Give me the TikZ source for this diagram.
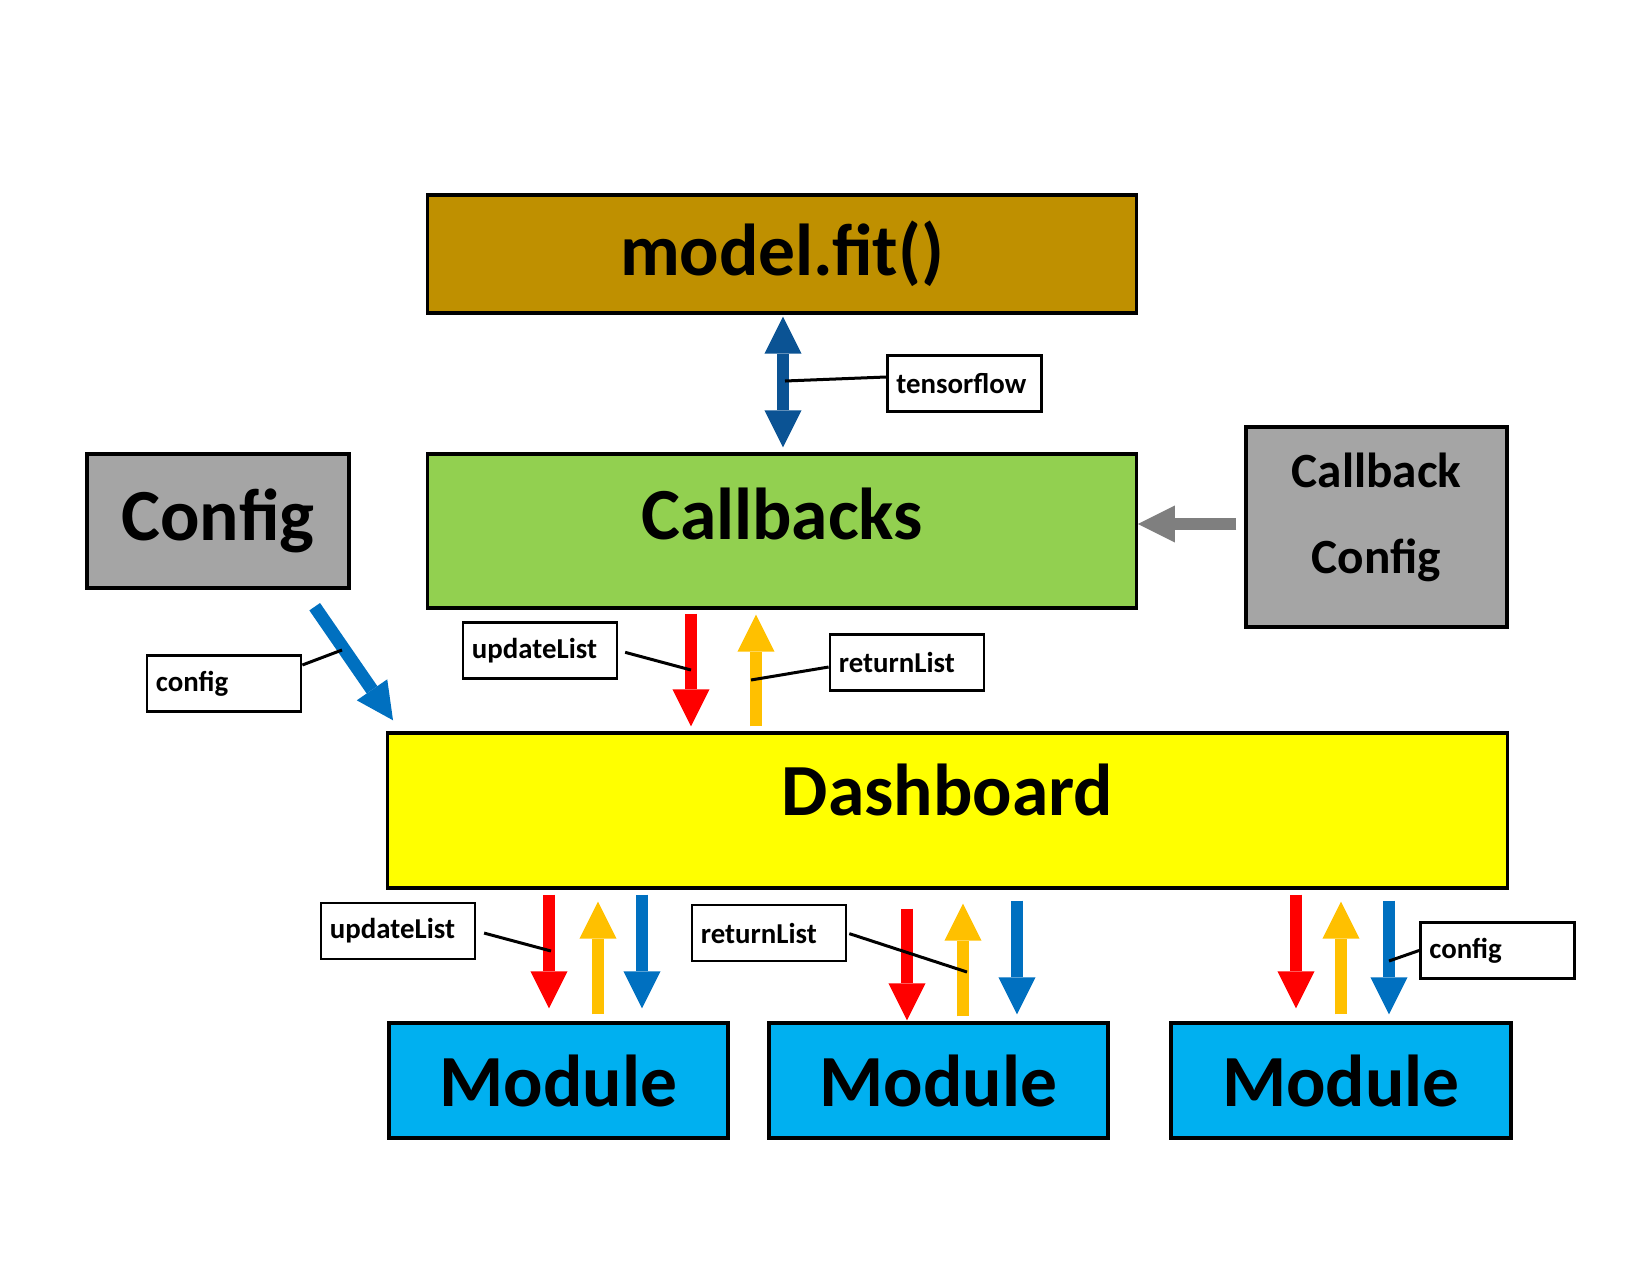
\documentclass[tikz,border=0pt]{standalone}
\usepackage{fontspec}
\setmainfont{Carlito}
\usetikzlibrary{arrows.meta}

\definecolor{fitgold}{HTML}{BF9000}
\definecolor{cbgreen}{HTML}{92D050}
\definecolor{cfggray}{HTML}{A5A5A5}
\definecolor{dashyellow}{HTML}{FFFF00}
\definecolor{modblue}{HTML}{00B0F0}
\definecolor{updred}{HTML}{FF0000}
\definecolor{retyellow}{HTML}{FFC000}
\definecolor{cfgblue}{HTML}{0070C0}
\definecolor{tfblue}{HTML}{0B5394}
\definecolor{arrowgray}{HTML}{7F7F7F}

\begin{document}
\begin{tikzpicture}[x=0.01cm, y=-0.01cm,
    >={Triangle[width=0.37cm,length=0.37cm,line width=0pt]},
    block/.style={draw, line width=0.033cm, inner sep=0pt, font=\fontsize{20.9}{25}\selectfont\bfseries},
    tag/.style={draw, fill=white, line width=0.027cm, inner xsep=0.09cm, inner ysep=0pt, text width=1.36cm, minimum height=0.56cm, align=left, font=\fontsize{8.2}{10}\selectfont\bfseries},
    fat/.style={->, line width=0.115cm, shorten <=0.05cm, shorten >=0.05cm},
    leader/.style={line width=0.03cm}]
  \useasboundingbox (0,0) rectangle (1650,1275);

  % boxes
  \node[block, fill=fitgold, minimum width=7.08cm, minimum height=1.18cm] (fit) at (782,254) {model.fit()};
  \node[block, fill=cbgreen, minimum width=7.08cm, minimum height=1.54cm, text height=0.5cm, text depth=0.34cm] (cb) at (782,531) {Callbacks};
  \node[block, fill=cfggray, minimum width=2.62cm, minimum height=1.34cm] (cfg) at (218,521) {Config};
  \node[block, fill=cfggray, minimum width=2.61cm, minimum height=2cm, align=center, font=\fontsize{14}{24.6}\selectfont\bfseries, text depth=0.28cm] (cbcfg) at (1376.5,527) {Callback\\Config};
  \node[block, fill=dashyellow, minimum width=11.19cm, minimum height=1.55cm, text height=0.5cm, text depth=0.41cm] (db) at (947.5,810.5) {Dashboard};
  \node[block, fill=modblue, minimum width=3.39cm, minimum height=1.15cm] (mod1) at (558.5,1080.5) {Module};
  \node[block, fill=modblue, minimum width=3.39cm, minimum height=1.15cm] (mod2) at (938.5,1080.5) {Module};
  \node[block, fill=modblue, minimum width=3.4cm, minimum height=1.15cm] (mod3) at (1341,1080.5) {Module};

  % labels
  \node[tag] (tf) at (964.5,383.5) {tensorflow};
  \node[tag] (upd1) at (540,650.5) {updateList};
  \node[tag] (ret1) at (907,662.5) {returnList};
  \node[tag] (cfg1) at (224,683.5) {config};
  \node[tag] (upd2) at (398,931) {updateList};
  \node[tag] (ret2) at (769,933) {returnList};
  \node[tag] (cfg2) at (1497.5,950.5) {config};

  % model.fit <-> callbacks
  \draw[fat, <->, tfblue, shorten <=0.02cm] (fit.south -| 783,0) -- (cb.north -| 783,0);
  % callbacks <-> dashboard
  \draw[fat, updred, shorten <=0.04cm] (cb.south -| 691,0) -- (db.north -| 691,0);
  \draw[fat, retyellow] (db.north -| 756,0) -- (cb.south -| 756,0);
  % config arrows
  \draw[fat, arrowgray, line width=0.12cm, shorten <=0.08cm, shorten >=0cm] (cbcfg.west |- 0,524) -- (cb.east |- 0,524);
  \draw[fat, cfgblue, line width=0.13cm, shorten <=0cm, shorten >=0cm] ([xshift=-0.36cm,yshift=-0.17cm]cfg.south east) -- ([xshift=0.07cm,yshift=0.11cm]db.north west);

  % dashboard <-> modules
  \draw[fat, updred, shorten >=0.13cm] (db.south -| 549,0) -- (mod1.north -| 549,0);
  \draw[fat, retyellow, shorten <=0.07cm, shorten >=0.12cm] (mod1.north -| 598,0) -- (db.south -| 598,0);
  \draw[fat, cfgblue, shorten >=0.13cm] (db.south -| 642,0) -- (mod1.north -| 642,0);

  \draw[fat, updred, shorten <=0.19cm, shorten >=0.01cm] (db.south -| 907,0) -- (mod2.north -| 907,0);
  \draw[fat, retyellow, shorten >=0.14cm] (mod2.north -| 963,0) -- (db.south -| 963,0);
  \draw[fat, cfgblue, shorten <=0.11cm, shorten >=0.07cm] (db.south -| 1017,0) -- (mod2.north -| 1017,0);

  \draw[fat, updred, shorten >=0.13cm] (db.south -| 1296,0) -- (mod3.north -| 1296,0);
  \draw[fat, retyellow, shorten <=0.07cm, shorten >=0.12cm] (mod3.north -| 1341,0) -- (db.south -| 1341,0);
  \draw[fat, cfgblue, shorten <=0.11cm, shorten >=0.07cm] (db.south -| 1389,0) -- (mod3.north -| 1389,0);

  % leaders
  \coordinate (tfpin) at (785,381);
  \coordinate (upd1pin) at (691,670);
  \coordinate (ret1pin) at (751,680);
  \coordinate (cfg1pin) at (342,650);
  \coordinate (upd2pin) at (551,951);
  \coordinate (ret2pin) at (967,972);
  \coordinate (cfg2pin) at (1389,961);
  \draw[leader] ([yshift=0.065cm]tf.west) -- (tfpin);
  \draw[leader, shorten <=0.07cm] (upd1.east) -- (upd1pin);
  \draw[leader] ([yshift=-0.045cm]ret1.west) -- (ret1pin);
  \draw[leader] ([yshift=0.185cm]cfg1.east) -- (cfg1pin);
  \draw[leader, shorten <=0.08cm] (upd2.east) -- (upd2pin);
  \draw[leader, shorten <=0.02cm] (ret2.east) -- (ret2pin);
  \draw[leader] (cfg2.west) -- (cfg2pin);
\end{tikzpicture}
\end{document}
